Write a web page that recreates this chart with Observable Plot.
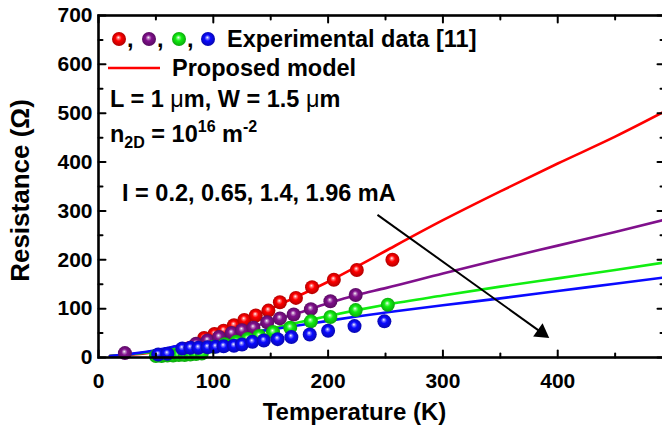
<!DOCTYPE html>
<html><head><meta charset="utf-8">
<script src="https://cdn.jsdelivr.net/npm/d3@7"></script>
<script src="https://cdn.jsdelivr.net/npm/@observablehq/plot@0.6"></script>
<style>body{margin:0;background:#fff} svg{display:block}</style>
</head><body><div id="chart"></div>
<script>
// ---------------- data ----------------
const redT = [92, 101, 109, 118, 127, 137, 148, 158, 172, 186, 205, 225, 256];
const redR = [40, 48, 55, 66, 77, 86, 96, 113, 122, 144, 159, 179, 200];
const purpleT = [23, 85, 95, 105, 116, 125, 135, 147, 158, 170, 185, 202, 224];
const purpleR = [9, 28, 35, 42, 50, 56, 61, 72, 80, 88, 99, 115, 128];
const greenT = [50, 55, 60, 65, 70, 75, 80, 85, 90, 100, 110, 120, 130, 140, 152, 167, 185, 202, 224, 252];
const greenR = [3, 3, 4, 4, 5, 5, 6, 7, 8, 22, 27, 32, 38, 44, 52, 61, 74, 83, 97, 108];
const blueT = [52, 60, 73, 80, 87, 95, 102, 109, 118, 125, 134, 144, 156, 168, 184, 200, 223, 249];
const blueR = [6, 7.6, 18.4, 19.8, 19.8, 21, 21.8, 23, 24, 26.5, 32, 34.7, 37.6, 41.8, 47, 54.7, 64.3, 74];

const modelT = [10, 30, 50, 75, 100, 125, 150, 175, 200, 225, 250, 300, 350, 400, 450, 500];
const modelRed = [3, 6, 12, 28, 50, 74, 100, 127, 155, 186, 218, 281, 340, 397, 452, 512];
const modelPurple = [3, 7, 14, 27, 40, 56, 74, 92, 111, 128, 142, 172, 201, 229, 257, 286];
const modelGreen = [3, 7, 13, 24, 34, 46, 59, 72, 85, 97, 108, 127, 145, 162, 179, 197];
const modelBlue = [3, 8, 15, 27, 38, 48, 57, 66, 75, 84, 92, 107, 121, 136, 151, 166];

const xMajor = [0, 100, 200, 300, 400];
const xMinor = [50, 150, 250, 350, 450];
const yMajor = [0, 100, 200, 300, 400, 500, 600, 700];
const yMinor = [50, 150, 250, 350, 450, 550, 650];

const arrowFrom = [243, 292];
const arrowTo = [386, 51];

const colors = {red: "#ff0000", purple: "#80108c", green: "#11ee11", blue: "#0a0aff"};
const FONT = "'Liberation Sans', Arial, sans-serif";

// ---------------- layout ----------------
const W = 662, H = 429, ML = 98, MR = -2, MT = 15, MB = 72;
const xMax = 493, yMax = 700;
const kx = (W - ML - MR) / xMax, ky = (H - MT - MB) / yMax;

const zip = (T, R) => T.map((t, i) => ({T: t, R: R[i]}));
const series = [
  {key: "red", pts: zip(redT, redR), model: zip(modelT, modelRed)},
  {key: "purple", pts: zip(purpleT, purpleR), model: zip(modelT, modelPurple)},
  {key: "green", pts: zip(greenT, greenR), model: zip(modelT, modelGreen)},
  {key: "blue", pts: zip(blueT, blueR), model: zip(modelT, modelBlue)}
];
const arrow = [{x1: arrowFrom[0], y1: arrowFrom[1], x2: arrowTo[0], y2: arrowTo[1]}];
const adx = (arrowTo[0] - arrowFrom[0]) * kx, ady = (arrowTo[1] - arrowFrom[1]) * ky;
const arrowAngle = Math.atan2(adx, ady) * 180 / Math.PI;

const tickShape = {draw(ctx, l) { ctx.moveTo(0, 0); ctx.lineTo(0, -l); }};
const tickV = (data, anchor, rot, len, ch) => Plot.vector(data, {
  [ch]: d => d, frameAnchor: anchor, rotate: rot, length: len, anchor: "start",
  shape: tickShape, stroke: "black", strokeWidth: 2
});

const marks = [];
series.forEach(s => marks.push(Plot.line(s.model, {x: "T", y: "R", stroke: colors[s.key], strokeWidth: 2.6, curve: "monotone-x", clip: true})));
series.forEach(s => marks.push(Plot.dot(s.pts, {x: "T", y: "R", r: 7, fill: colors[s.key], className: "pts-" + s.key})));
marks.push(
  Plot.link(arrow, {x1: "x1", y1: "y1", x2: "x2", y2: "y2", stroke: "black", strokeWidth: 2}),
  Plot.dot(arrow, {x: "x2", y: "y2", symbol: "triangle", r: 6, fill: "black", rotate: arrowAngle}),
  Plot.frame({stroke: "black", strokeWidth: 2.6}),
  tickV(xMajor, "bottom", 0, 7, "x"), tickV(xMinor, "bottom", 0, 4, "x"),
  tickV(xMajor, "top", 180, 7, "x"), tickV(xMinor, "top", 180, 4, "x"),
  tickV(yMajor, "left", 90, 7, "y"), tickV(yMinor, "left", 90, 4, "y"),
  tickV(yMajor, "right", -90, 7, "y"), tickV(yMinor, "right", -90, 4, "y"),
  Plot.axisX({ticks: xMajor, tickSize: 0, tickPadding: 16, fontSize: 21, fontWeight: "bold", label: null}),
  Plot.axisY({ticks: yMajor, tickSize: 0, tickPadding: 6, fontSize: 21, fontWeight: "bold", label: null}),
  Plot.text(["Temperature (K)"], {frameAnchor: "bottom", dx: -27, dy: 55, text: d => d, fontSize: 24, fontWeight: "bold", textAnchor: "middle", lineAnchor: "middle"}),
  Plot.text(["Resistance (Ω)"], {frameAnchor: "left", dx: -78, dy: 4, rotate: -90, text: d => d, fontSize: 26, fontWeight: "bold", textAnchor: "middle", lineAnchor: "middle"})
);

const chart = Plot.plot({
  width: W, height: H,
  marginLeft: ML, marginRight: MR, marginTop: MT, marginBottom: MB,
  x: {domain: [0, xMax], axis: null},
  y: {domain: [0, yMax], axis: null},
  style: {fontFamily: FONT, color: "black", background: "white", overflow: "hidden"},
  marks
});
document.getElementById("chart").appendChild(chart);

// ---------------- ball gradients & annotations ----------------
const svg = d3.select(chart);
const defs = svg.insert("defs", ":first-child");
const dark = c => d3.color(c).darker(1.2).formatHex();
Object.entries(colors).forEach(([k, c]) => {
  const g = defs.append("radialGradient").attr("id", "ball-" + k)
    .attr("cx", "50%").attr("cy", "50%").attr("r", "55%").attr("fx", "45%").attr("fy", "38%");
  g.append("stop").attr("offset", "0%").attr("stop-color", "#ffffff");
  g.append("stop").attr("offset", "18%").attr("stop-color", d3.interpolateRgb("#ffffff", c)(0.55));
  g.append("stop").attr("offset", "40%").attr("stop-color", c);
  g.append("stop").attr("offset", "100%").attr("stop-color", dark(c));
  svg.selectAll(".pts-" + k + " circle").attr("fill", `url(#ball-${k})`);
});

const FS = 23.5, SUB = 16;
const ann = svg.append("g").attr("font-family", FONT).attr("font-weight", "bold").attr("font-size", FS)
  .attr("fill", "black").attr("text-anchor", "start");
const legendKeys = ["red", "purple", "green", "blue"];
const dotX = [119, 149, 179, 208];
legendKeys.forEach((k, i) => {
  ann.append("circle").attr("cx", dotX[i]).attr("cy", 39).attr("r", 7).attr("fill", `url(#ball-${k})`);
  if (i < 3) ann.append("text").attr("x", dotX[i] + 8).attr("y", 47).text(",");
});
ann.append("text").attr("x", 227).attr("y", 47).text("Experimental data [11]");
ann.append("line").attr("x1", 108).attr("x2", 160).attr("y1", 68).attr("y2", 68).attr("stroke", colors.red).attr("stroke-width", 2.6);
ann.append("text").attr("x", 172).attr("y", 76).text("Proposed model");

const t1 = ann.append("text").attr("x", 110).attr("y", 107);
t1.append("tspan").text("L = 1 ");
t1.append("tspan").attr("font-weight", "normal").text("μ");
t1.append("tspan").text("m, W = 1.5 ");
t1.append("tspan").attr("font-weight", "normal").text("μ");
t1.append("tspan").text("m");

const t2 = ann.append("text").attr("x", 110).attr("y", 142);
t2.append("tspan").text("n");
t2.append("tspan").attr("font-size", SUB).attr("dy", 6).text("2D");
t2.append("tspan").attr("dy", -6).text(" = 10");
t2.append("tspan").attr("font-size", SUB).attr("dy", -10).text("16");
t2.append("tspan").attr("dy", 10).text(" m");
t2.append("tspan").attr("font-size", SUB).attr("dy", -10).text("-2");

ann.append("text").attr("x", 122).attr("y", 201).text("I = 0.2, 0.65, 1.4, 1.96 mA");
</script>
</body></html>
